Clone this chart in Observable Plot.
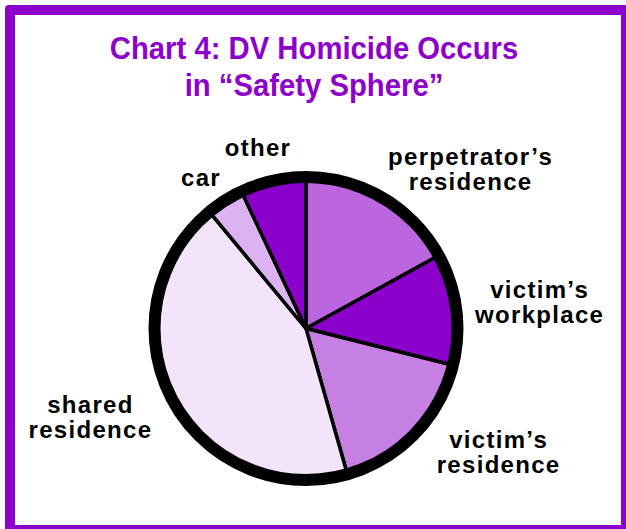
<!DOCTYPE html>
<html>
<head>
<meta charset="utf-8">
<script src="https://cdn.jsdelivr.net/npm/d3@7"></script>
<script src="https://cdn.jsdelivr.net/npm/@observablehq/plot@0.6"></script>
<style>
  html, body { margin: 0; padding: 0; background: #fff; }
  body { width: 626px; height: 529px; overflow: hidden; position: relative; }
  #frame {
    position: absolute; left: 5px; top: 5px; width: 606px; height: 510px;
    border: 10px solid #8E00CC; border-radius: 4px; z-index: 2; pointer-events: none;
  }
  #title {
    position: absolute; left: 1px; top: 30px; width: 626px; text-align: center;
    font-family: "Liberation Sans", Arial, sans-serif; font-weight: bold;
    font-size: 32px; line-height: 37px; color: #8E00CC;
    transform: scaleX(0.915); transform-origin: 313px 0;
  }
  #chart { position: absolute; left: 0; top: 120px; }
</style>
</head>
<body>
<div id="frame"></div>
<div id="title">Chart 4: DV Homicide Occurs<br>in “Safety Sphere”</div>
<div id="chart"></div>
<script>
// ---- data ----
const categories = ["perpetrator’s residence", "victim’s workplace", "victim’s residence", "shared residence", "car", "other"];
const shares = [17, 11.9, 16.7, 43.4, 4, 7];
const labels = ["perpetrator’s\nresidence", "victim’s\nworkplace", "victim’s\nresidence", "shared\nresidence", "car", "other"];
const colors = ["#BB66DE", "#8C00CC", "#C680E4", "#F3E4FA", "#DDB2F1", "#8C00CC"];

// ---- layout (styles / positions, not data) ----
const W = 626, H = 409;
const cx = 305.5, cy = 208;      // pie centre in svg pixels
const R = 151.5;                 // pixels per unit radius (ring centreline)
const labelRadius = 1.4;
const labelNudge = {             // pixel nudges of labels from their mid-angle anchor
  "perpetrator’s residence": [56.6, 44.5],
  "victim’s workplace": [23.3, 21.3],
  "victim’s residence": [40.3, -3.5],
  "shared residence": [-27.8, 10.5],
  "car": [8.6, 37],
  "other": [-1.8, 34.9]
};

const rows = categories.map((c, i) => ({category: c, value: shares[i], label: labels[i]}));
const arcs = d3.pie().sort(null).value(d => d.value).startAngle(0).endAngle(2 * Math.PI)(rows);

// polygon points of each slice, from the pie layout
const slicePoints = [];
for (const a of arcs) {
  const c = a.data.category;
  slicePoints.push({category: c, x: 0, y: 0});
  const n = Math.max(2, Math.ceil((a.endAngle - a.startAngle) * 180 / Math.PI));
  for (let k = 0; k <= n; k++) {
    const t = a.startAngle + (a.endAngle - a.startAngle) * k / n;
    slicePoints.push({category: c, x: Math.sin(t), y: Math.cos(t)});
  }
  slicePoints.push({category: c, x: 0, y: 0});
}

const labelRows = arcs.map(a => {
  const m = (a.startAngle + a.endAngle) / 2;
  const [dx, dy] = labelNudge[a.data.category];
  return {
    label: a.data.label,
    x: labelRadius * Math.sin(m) + dx / R,
    y: labelRadius * Math.cos(m) - dy / R
  };
});

const plot = Plot.plot({
  width: W,
  height: H,
  margin: 0,
  style: {background: "transparent", fontFamily: "'Liberation Sans', Arial, sans-serif", letterSpacing: "1.3px", overflow: "visible"},
  x: {domain: [-cx / R, (W - cx) / R], axis: null},
  y: {domain: [-(H - cy) / R, cy / R], axis: null},
  color: {type: "ordinal", domain: categories, range: colors},
  marks: [
    Plot.line(slicePoints, {x: "x", y: "y", z: "category", fill: "category", stroke: "black", strokeWidth: 3.5, strokeLinejoin: "round", curve: "linear"}),
    Plot.dot([{x: 0, y: 0}], {x: "x", y: "y", r: R, fill: "none", stroke: "black", strokeWidth: 12}),
    Plot.text(labelRows, {x: "x", y: "y", text: "label", lineAnchor: "bottom", lineHeight: 1.04, fontSize: 24, fontWeight: "bold", fill: "black"})
  ]
});
document.getElementById("chart").appendChild(plot);
</script>
</body>
</html>
